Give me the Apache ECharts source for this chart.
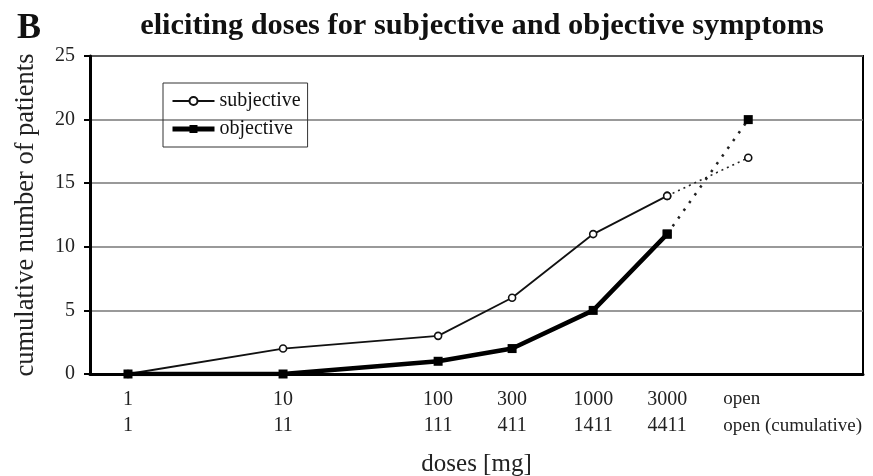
<!DOCTYPE html>
<html>
<head>
<meta charset="utf-8">
<script src="https://cdn.jsdelivr.net/npm/echarts@6/dist/echarts.min.js"></script>
<style>html,body{margin:0;padding:0;background:#fff}#c{width:873px;height:476px}</style>
</head>
<body>
<div id="c"></div>
<script>
// dose positions on a log scale; "open" is placed at the next log step (10000)
var doses = [1, 10, 100, 300, 1000, 3000, 10000];
var doseLabels = ['1', '10', '100', '300', '1000', '3000', 'open'];
var cumLabels = ['1', '11', '111', '411', '1411', '4411', 'open (cumulative)'];
var subjective = [0, 2, 3, 6, 11, 14, 17];
var objective = [0, 0, 1, 2, 5, 11, 20];

var serif = '"Liberation Serif", "Times New Roman", serif';
var xs = doses.map(function (d) { return Math.log10(d); });
function pts(vals, from, to) {
  var out = [];
  for (var i = from; i <= to; i++) out.push([xs[i], vals[i]]);
  return out;
}
var last = doses.length - 1;
function labelFor(v) {
  for (var i = 0; i < xs.length; i++) {
    if (Math.abs(xs[i] - v) < 1e-6) return i;
  }
  return -1;
}
var xMin = -0.245, xMax = 4.74;

var chart = echarts.init(document.getElementById('c'), null, {renderer: 'canvas'});
chart.setOption({
  animation: false,
  backgroundColor: '#fff',
  title: [
    {text: 'eliciting doses for subjective and objective symptoms', left: 477, top: 6, textAlign: 'center',
     textStyle: {fontFamily: serif, fontWeight: 'bold', fontSize: 30.4, color: '#111'}},
    {text: 'B', left: 12, top: 6, textStyle: {fontFamily: serif, fontWeight: 'bold', fontSize: 36, color: '#111'}}
  ],
  legend: {
    orient: 'vertical', left: 163, top: 83,
    data: [{name: 'subjective'}, {name: 'objective', lineStyle: {width: 5}}],
    borderColor: '#333', borderWidth: 1, padding: [8, 7, 8, 7],
    itemGap: 8, itemWidth: 42, itemHeight: 10,
    textStyle: {fontFamily: serif, fontSize: 20, color: '#111'}
  },
  grid: {left: 90, right: 10, top: 56, bottom: 102, show: true, borderColor: '#000', borderWidth: 2,
         containLabel: false, outerBoundsMode: 'none'},
  xAxis: [{
    type: 'value', min: xMin, max: xMax,
    name: 'doses [mg]', nameLocation: 'middle', nameGap: 78,
    nameTextStyle: {fontFamily: serif, fontSize: 25, color: '#222'},
    axisLine: {show: true, onZero: false, lineStyle: {color: '#000', width: 3}},
    axisTick: {show: false},
    splitLine: {show: false},
    axisLabel: {
      customValues: xs.slice(0, last),
      showMaxLabel: true, showMinLabel: true, hideOverlap: false,
      margin: 12, lineHeight: 26.5,
      fontFamily: serif, fontSize: 20, color: '#222',
      formatter: function (v) {
        var i = labelFor(v);
        return i < 0 ? '' : doseLabels[i] + '\n' + cumLabels[i];
      }
    }
  }, {
    // second copy of the same scale, only carrying the "open" label (left-aligned)
    type: 'value', min: xMin, max: xMax, position: 'bottom',
    axisLine: {show: false}, axisTick: {show: false}, splitLine: {show: false},
    axisLabel: {
      customValues: [xs[last]],
      showMaxLabel: true, showMinLabel: true, hideOverlap: false,
      margin: 12,
      formatter: function (v) {
        var i = labelFor(v);
        return i < 0 ? '' : '{o|' + doseLabels[i] + '}\n{o|' + cumLabels[i] + '}';
      },
      rich: {o: {fontFamily: serif, fontSize: 19, color: '#222', lineHeight: 26.5, width: 148, align: 'left', padding: [0, 0, 0, 98]}}
    }
  }],
  yAxis: {
    type: 'value', min: 0, max: 25, interval: 5,
    name: 'cumulative number of patients', nameLocation: 'middle', nameGap: 50,
    nameTextStyle: {fontFamily: serif, fontSize: 26.5, color: '#222'},
    axisLine: {show: true, onZero: false, lineStyle: {color: '#000', width: 3}},
    axisTick: {show: true, inside: false, length: 6, lineStyle: {color: '#000', width: 2}},
    splitLine: {show: true, lineStyle: {color: '#777', width: 1.5}},
    axisLabel: {fontFamily: serif, fontSize: 20, color: '#222', margin: 15}
  },
  series: [
    {name: 'subjective', type: 'line', data: pts(subjective, 0, last - 1), z: 3,
     symbol: 'circle', symbolSize: 7, showAllSymbol: true,
     lineStyle: {color: '#111', width: 1.8},
     itemStyle: {color: '#fff', borderColor: '#111', borderWidth: 1.6}},
    {name: 'objective', type: 'line', data: pts(objective, 0, last - 1), z: 4,
     symbol: 'rect', symbolSize: 9, showAllSymbol: true,
     lineStyle: {color: '#000', width: 4.5},
     itemStyle: {color: '#000', borderColor: '#000', borderWidth: 0}},
    {name: 'subjective open', type: 'line', data: pts(subjective, last - 1, last), z: 2,
     symbol: 'circle', symbolSize: 7,
     lineStyle: {color: '#222', width: 1.6, type: [2, 4]},
     itemStyle: {color: '#fff', borderColor: '#111', borderWidth: 1.6}},
    {name: 'objective open', type: 'line', data: pts(objective, last - 1, last), z: 2,
     symbol: 'rect', symbolSize: 9,
     lineStyle: {color: '#222', width: 2.5, type: [2.5, 7]},
     itemStyle: {color: '#000'}}
  ]
});
</script>
</body>
</html>
